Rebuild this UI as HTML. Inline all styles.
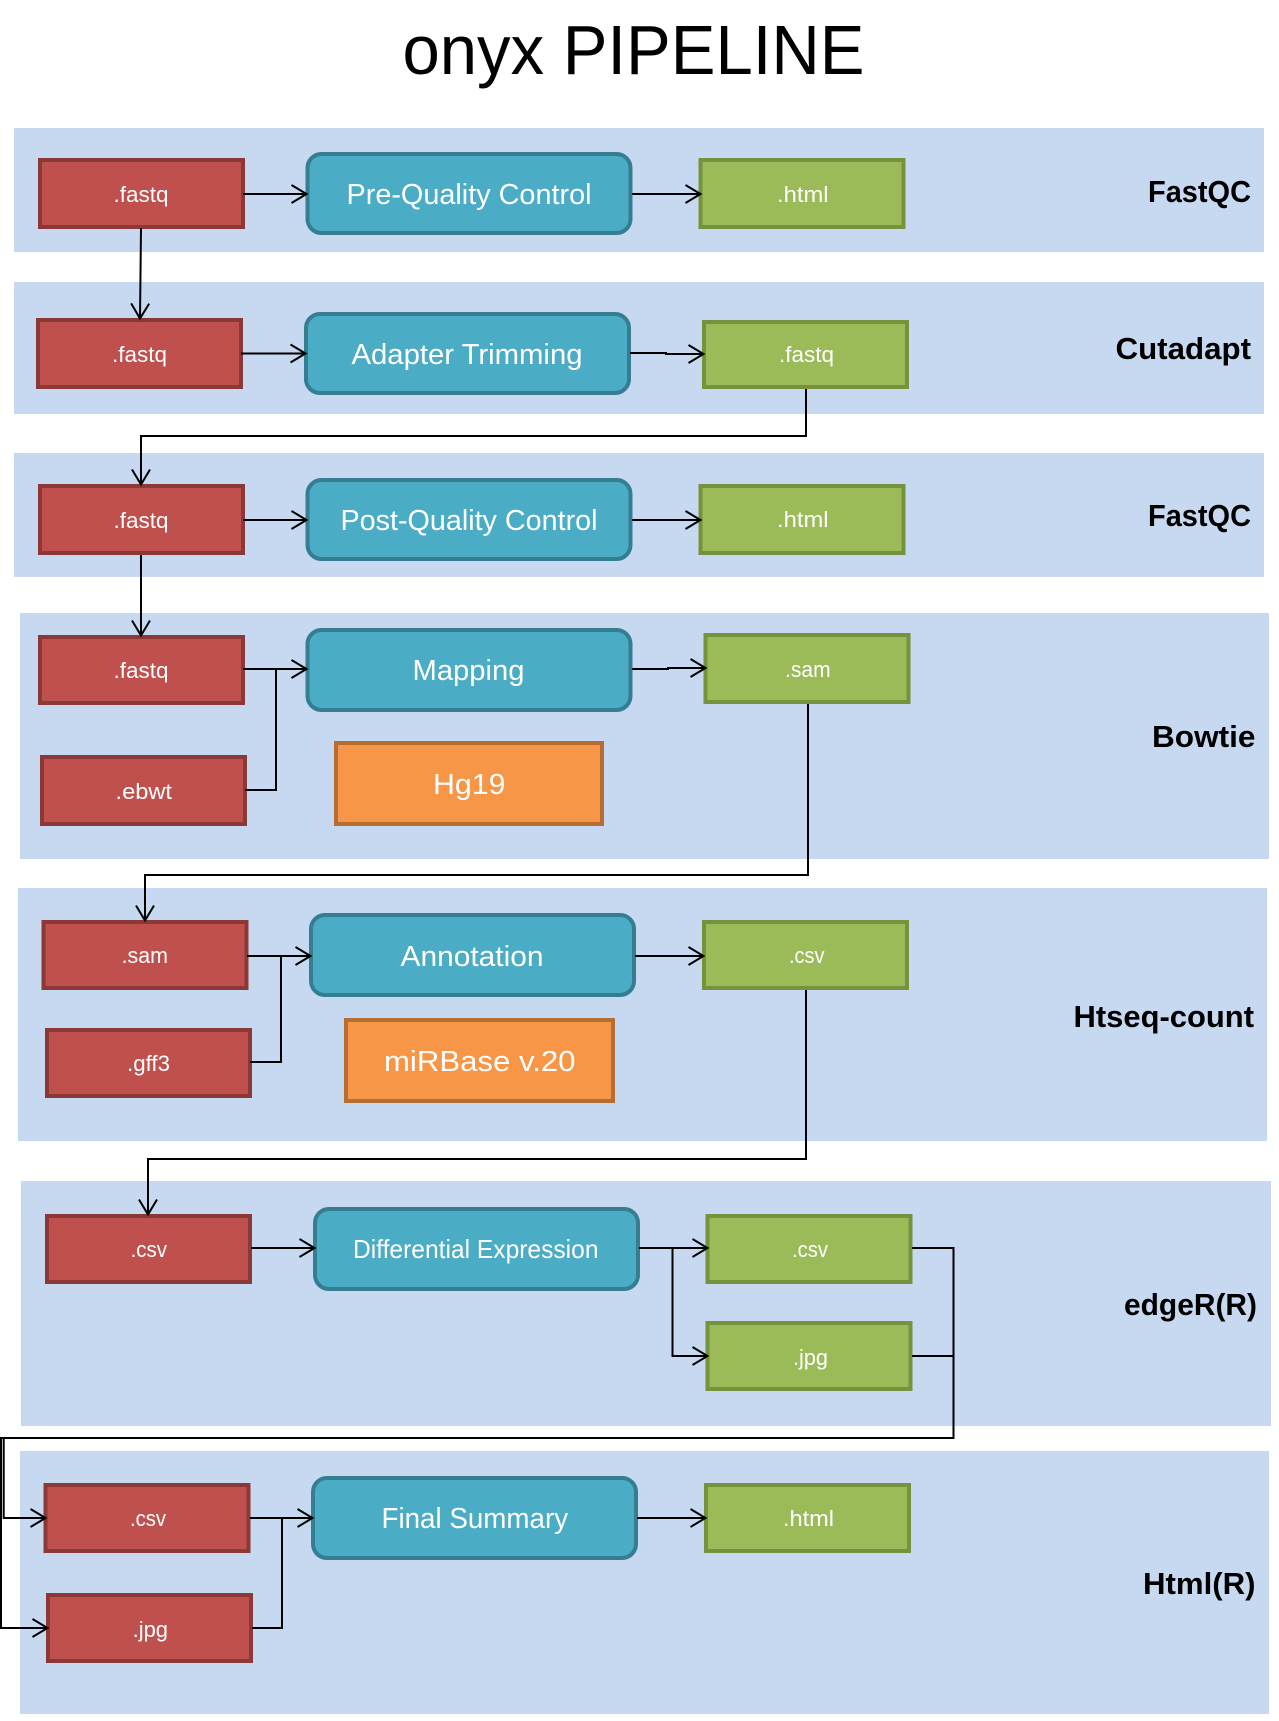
<!DOCTYPE html>
<html>
<head>
<meta charset="utf-8">
<title>onyx PIPELINE</title>
<style>
html,body{margin:0;padding:0;background:#fff}
svg{display:block}
text{font-family:"Liberation Sans",sans-serif}
.b{fill:#c6d9f1}
.r{fill:#c0504d;stroke:#8c3836;stroke-width:4}
.g{fill:#9bbb59;stroke:#76923c;stroke-width:4}
.c{fill:#4bacc6;stroke:#357d91;stroke-width:4}
.o{fill:#f79646;stroke:#b66d31;stroke-width:4}
.s{fill:#fff;font-size:22px;transform:translateX(1px)}
.m{fill:#fff;font-size:29px}
.l{fill:#000;font-size:31px;font-weight:bold;transform:translateX(1px)}
.w{fill:none;stroke:#000;stroke-width:2}
</style>
</head>
<body>
<svg xmlns="http://www.w3.org/2000/svg" width="1279" height="1721" viewBox="0 0 1279 1721">
<defs>
<marker id="a" markerUnits="userSpaceOnUse" markerWidth="20" markerHeight="22" refX="16.5" refY="11" orient="auto">
<path d="M2 2L17 11L2 20" fill="none" stroke="#000" stroke-width="2"/>
</marker>
</defs>
<rect width="1279" height="1721" fill="#fff"/>
<text x="402.5" y="74" textLength="462" lengthAdjust="spacingAndGlyphs" style="font-size:70px;fill:#000">onyx PIPELINE</text>

<rect class="b" x="14" y="128" width="1250" height="124"/>
<rect class="b" x="14" y="282" width="1250" height="132"/>
<rect class="b" x="14" y="453" width="1250" height="124"/>
<rect class="b" x="20" y="613" width="1249" height="246"/>
<rect class="b" x="18" y="888" width="1249" height="253"/>
<rect class="b" x="21" y="1181" width="1250" height="245"/>
<rect class="b" x="20" y="1451" width="1249" height="263"/>

<!-- row 1 -->
<rect class="r" x="40" y="160" width="203" height="67"/>
<text class="s" x="112.5" y="202" textLength="55" lengthAdjust="spacingAndGlyphs">.fastq</text>
<rect class="c" x="307.5" y="154" width="323" height="79" rx="14"/>
<text class="m" x="346.5" y="204" textLength="245" lengthAdjust="spacingAndGlyphs">Pre-Quality Control</text>
<rect class="g" x="700.5" y="160" width="203" height="67"/>
<text class="s" x="776" y="202" textLength="51.6" lengthAdjust="spacingAndGlyphs">.html</text>
<text class="l" x="1147" y="202" textLength="103" lengthAdjust="spacingAndGlyphs">FastQC</text>

<!-- row 2 -->
<rect class="r" x="38" y="320" width="203" height="67"/>
<text class="s" x="111" y="362" textLength="55" lengthAdjust="spacingAndGlyphs">.fastq</text>
<rect class="c" x="306" y="314" width="323" height="79" rx="14"/>
<text class="m" x="351.5" y="364" textLength="231" lengthAdjust="spacingAndGlyphs">Adapter Trimming</text>
<rect class="g" x="704" y="322" width="203" height="65"/>
<text class="s" x="778" y="362" textLength="55" lengthAdjust="spacingAndGlyphs">.fastq</text>
<text class="l" x="1114.5" y="359" textLength="135.5" lengthAdjust="spacingAndGlyphs">Cutadapt</text>

<!-- row 3 -->
<rect class="r" x="40" y="486" width="203" height="67"/>
<text class="s" x="112.5" y="528" textLength="55" lengthAdjust="spacingAndGlyphs">.fastq</text>
<rect class="c" x="307.5" y="480" width="323" height="79" rx="14"/>
<text class="m" x="340.5" y="530" textLength="257" lengthAdjust="spacingAndGlyphs">Post-Quality Control</text>
<rect class="g" x="700.5" y="486" width="203" height="67"/>
<text class="s" x="776" y="527" textLength="51.6" lengthAdjust="spacingAndGlyphs">.html</text>
<text class="l" x="1147" y="526" textLength="103" lengthAdjust="spacingAndGlyphs">FastQC</text>

<!-- row 4 -->
<rect class="r" x="40" y="637" width="203" height="66"/>
<text class="s" x="112.5" y="678" textLength="55" lengthAdjust="spacingAndGlyphs">.fastq</text>
<rect class="r" x="42" y="757" width="203" height="67"/>
<text class="s" x="114.5" y="799" textLength="56.5" lengthAdjust="spacingAndGlyphs">.ebwt</text>
<rect class="c" x="307.5" y="630" width="323" height="80" rx="14"/>
<text class="m" x="412.5" y="680" textLength="112" lengthAdjust="spacingAndGlyphs">Mapping</text>
<rect class="o" x="336" y="743" width="266" height="81"/>
<text class="m" x="433" y="794" textLength="72.5" lengthAdjust="spacingAndGlyphs">Hg19</text>
<rect class="g" x="705.5" y="635" width="203" height="67"/>
<text class="s" x="784" y="677" textLength="45.6" lengthAdjust="spacingAndGlyphs">.sam</text>
<text class="l" x="1151" y="747" textLength="103.5" lengthAdjust="spacingAndGlyphs">Bowtie</text>

<!-- row 5 -->
<rect class="r" x="43.5" y="922" width="203" height="66"/>
<text class="s" x="120.6" y="963" textLength="46.4" lengthAdjust="spacingAndGlyphs">.sam</text>
<rect class="r" x="47" y="1030" width="203" height="66"/>
<text class="s" x="126" y="1071" textLength="43" lengthAdjust="spacingAndGlyphs">.gff3</text>
<rect class="c" x="311" y="915" width="323" height="80" rx="14"/>
<text class="m" x="400.5" y="966" textLength="143" lengthAdjust="spacingAndGlyphs">Annotation</text>
<rect class="o" x="346" y="1020" width="267" height="81"/>
<text class="m" x="384" y="1071" textLength="191.5" lengthAdjust="spacingAndGlyphs">miRBase v.20</text>
<rect class="g" x="704" y="922" width="203" height="66"/>
<text class="s" x="788" y="963" textLength="35.5" lengthAdjust="spacingAndGlyphs">.csv</text>
<text class="l" x="1072.5" y="1027" textLength="180.5" lengthAdjust="spacingAndGlyphs">Htseq-count</text>

<!-- row 6 -->
<rect class="r" x="47" y="1216" width="203" height="66"/>
<text class="s" x="129.6" y="1257" textLength="36.4" lengthAdjust="spacingAndGlyphs">.csv</text>
<rect class="c" x="315" y="1209" width="323" height="80" rx="14"/>
<text class="m" x="353" y="1258" textLength="245.5" lengthAdjust="spacingAndGlyphs" style="font-size:26px">Differential Expression</text>
<rect class="g" x="707.5" y="1216" width="203" height="66"/>
<text class="s" x="791" y="1257" textLength="36" lengthAdjust="spacingAndGlyphs">.csv</text>
<rect class="g" x="707.5" y="1323" width="203" height="66"/>
<text class="s" x="792" y="1365" textLength="35" lengthAdjust="spacingAndGlyphs">.jpg</text>
<text class="l" x="1123" y="1315" textLength="133" lengthAdjust="spacingAndGlyphs">edgeR(R)</text>

<!-- row 7 -->
<rect class="r" x="45.5" y="1485" width="203" height="66"/>
<text class="s" x="129" y="1526" textLength="36" lengthAdjust="spacingAndGlyphs">.csv</text>
<rect class="r" x="48" y="1595" width="203" height="66"/>
<text class="s" x="131.6" y="1637" textLength="35.4" lengthAdjust="spacingAndGlyphs">.jpg</text>
<rect class="c" x="313" y="1478" width="323" height="80" rx="14"/>
<text class="m" x="381.5" y="1528" textLength="186.6" lengthAdjust="spacingAndGlyphs">Final Summary</text>
<rect class="g" x="706" y="1485" width="203" height="66"/>
<text class="s" x="782" y="1526" textLength="51" lengthAdjust="spacingAndGlyphs">.html</text>
<text class="l" x="1142" y="1594" textLength="112.5" lengthAdjust="spacingAndGlyphs">Html(R)</text>

<!-- connectors -->
<path class="w" marker-end="url(#a)" d="M243 194H306"/>
<path class="w" d="M141 228L140 318" marker-end="url(#a)"/>
<path class="w" marker-end="url(#a)" d="M632 194H700"/>
<path class="w" marker-end="url(#a)" d="M241 353.5H305"/>
<path class="w" marker-end="url(#a)" d="M630 353H666V354H703"/>
<path class="w" marker-end="url(#a)" d="M806 389V436H141V484"/>
<path class="w" marker-end="url(#a)" d="M243 520H306"/>
<path class="w" marker-end="url(#a)" d="M632 520H700"/>
<path class="w" marker-end="url(#a)" d="M141 555V635"/>
<path class="w" marker-end="url(#a)" d="M243 669H306"/>
<path class="w" d="M245 790H276V669"/>
<path class="w" marker-end="url(#a)" d="M632 669H668V668H705"/>
<path class="w" marker-end="url(#a)" d="M808 704V875H145V920"/>
<path class="w" marker-end="url(#a)" d="M247 956H310"/>
<path class="w" d="M250 1062H281V956"/>
<path class="w" marker-end="url(#a)" d="M635 956H703"/>
<path class="w" marker-end="url(#a)" d="M806 990V1159H148V1214"/>
<path class="w" marker-end="url(#a)" d="M251 1248H314"/>
<path class="w" marker-end="url(#a)" d="M639 1248H707"/>
<path class="w" marker-end="url(#a)" d="M672.5 1248V1356H707"/>
<path class="w" d="M912 1248H953.5V1438H1V1628H47" marker-end="url(#a)"/>
<path class="w" d="M912 1356H953.5"/>
<path class="w" marker-end="url(#a)" d="M3.7 1438V1518H45"/>
<path class="w" marker-end="url(#a)" d="M250 1518H312"/>
<path class="w" d="M252 1628H282V1518"/>
<path class="w" marker-end="url(#a)" d="M637 1518H705"/>
</svg>
</body>
</html>
